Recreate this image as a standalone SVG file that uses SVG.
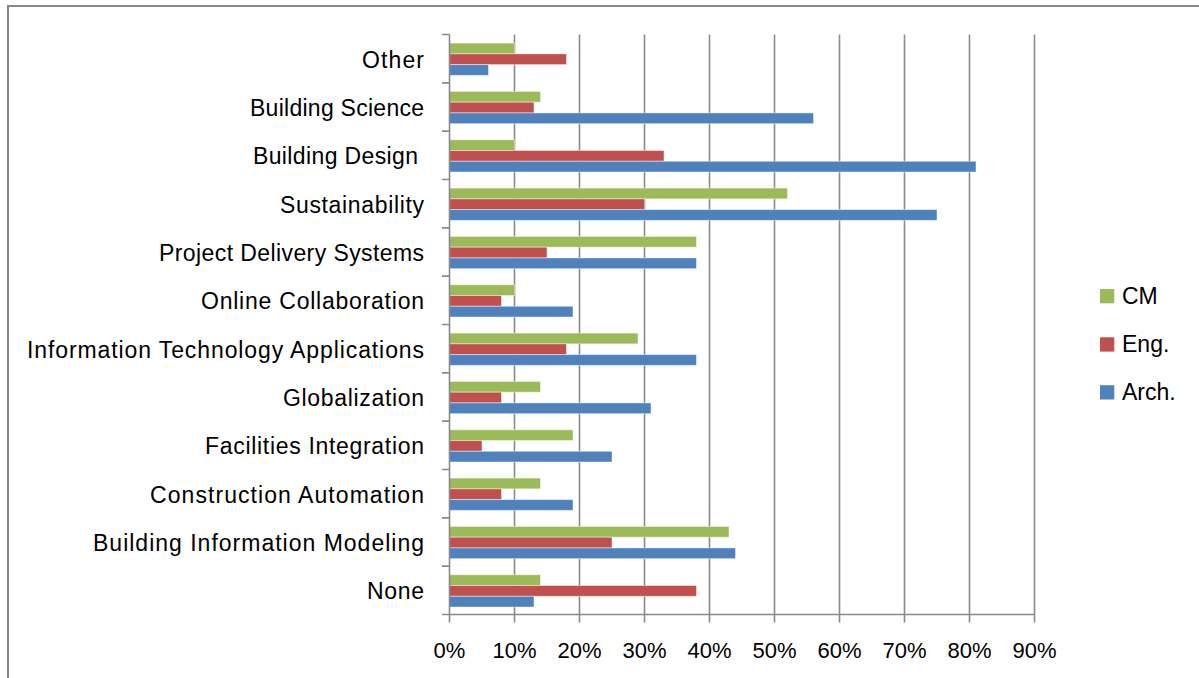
<svg xmlns="http://www.w3.org/2000/svg" width="1199" height="678" viewBox="0 0 1199 678">
<style>
.frame{stroke:#878787;stroke-width:2;fill:none}
.grid{stroke:#8a8a8a;stroke-width:1.6;fill:none}
.axis{stroke:#8a8a8a;stroke-width:1.6;fill:none}
.cm{fill:#9BBB59;stroke:#ffffff;stroke-opacity:0.45;stroke-width:1}
.eng{fill:#C0504D;stroke:#ffffff;stroke-opacity:0.45;stroke-width:1}
.arch{fill:#4F81BD;stroke:#ffffff;stroke-opacity:0.45;stroke-width:1}
.cat{font-family:"Liberation Sans",Arial,sans-serif;font-size:23px;fill:#000}
.tick{font-family:"Liberation Sans",Arial,sans-serif;font-size:22px;fill:#000;text-anchor:middle}
.leg{font-family:"Liberation Sans",Arial,sans-serif;font-size:23px;fill:#000}
</style>
<rect x="0" y="0" width="1199" height="678" fill="#ffffff"/>
<path class="frame" d="M8,678 V6 H1199"/>
<g id="gridlines">
<path class="grid" d="M514.5,34.5V614.5M579.5,34.5V614.5M644.5,34.5V614.5M709.5,34.5V614.5M774.5,34.5V614.5M839.5,34.5V614.5M904.5,34.5V614.5M969.5,34.5V614.5M1034.5,34.5V614.5"/>
</g>
<g id="bars">
<g id="cat-other" transform="translate(449.5,34.5)">
<rect class="cm" x="0" y="8.6" width="65" height="10.75"/>
<rect class="eng" x="0" y="19.35" width="117" height="10.75"/>
<rect class="arch" x="0" y="30.1" width="39" height="10.75"/>
</g>
<g id="cat-building-science" transform="translate(449.5,82.83)">
<rect class="cm" x="0" y="8.6" width="91" height="10.75"/>
<rect class="eng" x="0" y="19.35" width="84.5" height="10.75"/>
<rect class="arch" x="0" y="30.1" width="364" height="10.75"/>
</g>
<g id="cat-building-design" transform="translate(449.5,131.17)">
<rect class="cm" x="0" y="8.6" width="65" height="10.75"/>
<rect class="eng" x="0" y="19.35" width="214.5" height="10.75"/>
<rect class="arch" x="0" y="30.1" width="526.5" height="10.75"/>
</g>
<g id="cat-sustainability" transform="translate(449.5,179.5)">
<rect class="cm" x="0" y="8.6" width="338" height="10.75"/>
<rect class="eng" x="0" y="19.35" width="195" height="10.75"/>
<rect class="arch" x="0" y="30.1" width="487.5" height="10.75"/>
</g>
<g id="cat-project-delivery" transform="translate(449.5,227.83)">
<rect class="cm" x="0" y="8.6" width="247" height="10.75"/>
<rect class="eng" x="0" y="19.35" width="97.5" height="10.75"/>
<rect class="arch" x="0" y="30.1" width="247" height="10.75"/>
</g>
<g id="cat-online-collaboration" transform="translate(449.5,276.17)">
<rect class="cm" x="0" y="8.6" width="65" height="10.75"/>
<rect class="eng" x="0" y="19.35" width="52" height="10.75"/>
<rect class="arch" x="0" y="30.1" width="123.5" height="10.75"/>
</g>
<g id="cat-it-applications" transform="translate(449.5,324.5)">
<rect class="cm" x="0" y="8.6" width="188.5" height="10.75"/>
<rect class="eng" x="0" y="19.35" width="117" height="10.75"/>
<rect class="arch" x="0" y="30.1" width="247" height="10.75"/>
</g>
<g id="cat-globalization" transform="translate(449.5,372.83)">
<rect class="cm" x="0" y="8.6" width="91" height="10.75"/>
<rect class="eng" x="0" y="19.35" width="52" height="10.75"/>
<rect class="arch" x="0" y="30.1" width="201.5" height="10.75"/>
</g>
<g id="cat-facilities-integration" transform="translate(449.5,421.17)">
<rect class="cm" x="0" y="8.6" width="123.5" height="10.75"/>
<rect class="eng" x="0" y="19.35" width="32.5" height="10.75"/>
<rect class="arch" x="0" y="30.1" width="162.5" height="10.75"/>
</g>
<g id="cat-construction-automation" transform="translate(449.5,469.5)">
<rect class="cm" x="0" y="8.6" width="91" height="10.75"/>
<rect class="eng" x="0" y="19.35" width="52" height="10.75"/>
<rect class="arch" x="0" y="30.1" width="123.5" height="10.75"/>
</g>
<g id="cat-bim" transform="translate(449.5,517.83)">
<rect class="cm" x="0" y="8.6" width="279.5" height="10.75"/>
<rect class="eng" x="0" y="19.35" width="162.5" height="10.75"/>
<rect class="arch" x="0" y="30.1" width="286" height="10.75"/>
</g>
<g id="cat-none" transform="translate(449.5,566.17)">
<rect class="cm" x="0" y="8.6" width="91" height="10.75"/>
<rect class="eng" x="0" y="19.35" width="247" height="10.75"/>
<rect class="arch" x="0" y="30.1" width="84.5" height="10.75"/>
</g>
</g>
<g id="axes">
<path class="axis" d="M449.5,34.5V614.5H1034.5"/>
<path class="axis" d="M442,34.5H449.5M442,82.83H449.5M442,131.17H449.5M442,179.5H449.5M442,227.83H449.5M442,276.17H449.5M442,324.5H449.5M442,372.83H449.5M442,421.17H449.5M442,469.5H449.5M442,517.83H449.5M442,566.17H449.5M442,614.5H449.5"/>
<path class="axis" d="M449.5,614.5V622.5M514.5,614.5V622.5M579.5,614.5V622.5M644.5,614.5V622.5M709.5,614.5V622.5M774.5,614.5V622.5M839.5,614.5V622.5M904.5,614.5V622.5M969.5,614.5V622.5M1034.5,614.5V622.5"/>
</g>
<g id="category-labels">
<text class="cat" x="362" y="67.7" textLength="62" lengthAdjust="spacing">Other</text>
<text class="cat" x="250" y="116" textLength="174" lengthAdjust="spacing">Building Science</text>
<text class="cat" x="253" y="164.3" textLength="165" lengthAdjust="spacing">Building Design</text>
<text class="cat" x="280" y="212.7" textLength="144" lengthAdjust="spacing">Sustainability</text>
<text class="cat" x="159" y="261" textLength="265" lengthAdjust="spacing">Project Delivery Systems</text>
<text class="cat" x="201" y="309.3" textLength="223" lengthAdjust="spacing">Online Collaboration</text>
<text class="cat" x="27" y="357.7" textLength="397" lengthAdjust="spacing">Information Technology Applications</text>
<text class="cat" x="283" y="406" textLength="141" lengthAdjust="spacing">Globalization</text>
<text class="cat" x="205" y="454.3" textLength="219" lengthAdjust="spacing">Facilities Integration</text>
<text class="cat" x="150" y="502.7" textLength="274" lengthAdjust="spacing">Construction Automation</text>
<text class="cat" x="93" y="551" textLength="331" lengthAdjust="spacing">Building Information Modeling</text>
<text class="cat" x="367" y="599.3" textLength="57" lengthAdjust="spacing">None</text>
</g>
<g id="value-labels">
<text class="tick" x="449.5" y="658">0%</text>
<text class="tick" x="514.5" y="658">10%</text>
<text class="tick" x="579.5" y="658">20%</text>
<text class="tick" x="644.5" y="658">30%</text>
<text class="tick" x="709.5" y="658">40%</text>
<text class="tick" x="774.5" y="658">50%</text>
<text class="tick" x="839.5" y="658">60%</text>
<text class="tick" x="904.5" y="658">70%</text>
<text class="tick" x="969.5" y="658">80%</text>
<text class="tick" x="1034.5" y="658">90%</text>
</g>
<g id="legend">
<g id="legend-cm">
<rect x="1100" y="289" width="14.3" height="14.3" fill="#9BBB59"/>
<text class="leg" x="1122" y="304.3">CM</text>
</g>
<g id="legend-eng">
<rect x="1100" y="337.3" width="14.3" height="14.3" fill="#C0504D"/>
<text class="leg" x="1122" y="352">Eng.</text>
</g>
<g id="legend-arch">
<rect x="1100" y="385.2" width="14.3" height="14.3" fill="#4F81BD"/>
<text class="leg" x="1122" y="399.6">Arch.</text>
</g>
</g>
</svg>
